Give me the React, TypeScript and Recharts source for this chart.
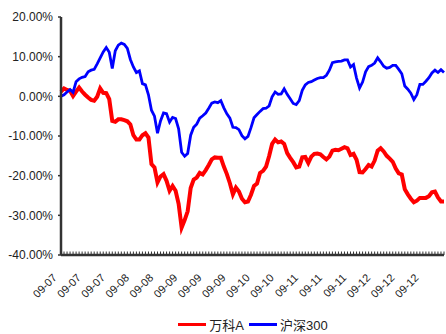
import React from 'react';
import { LineChart, Line, XAxis, YAxis, Legend } from 'recharts';

const monthNames = ['09-07', '09-08', '09-09', '09-10', '09-11', '09-12'];
const monthDays = [22, 18, 22, 17, 22, 27];

const vanke = [
  1.2, 2.0, 1.6, 1.4, 0.1, 1.2, 2.2, 1.2, 0.4, -0.3,
  -0.9, -1.1, -0.1, 2.0, 0.9, 0.8, -0.7, -6.2, -6.4, -5.8,
  -5.8, -6.0, -6.3, -7.1, -9.8, -10.9, -10.9, -9.8, -9.3, -10.4,
  -17.1, -17.9, -21.7, -20.2, -19.6, -21.3, -23.8, -22.6, -23.8, -27.1,
  -33.1, -31.2, -29.0, -23.1, -21.0, -20.5, -19.3, -19.7, -18.6, -17.3,
  -15.9, -15.4, -15.5, -15.5, -17.7, -19.6, -21.9, -24.7, -23.0, -24.0,
  -25.8, -26.7, -26.5, -24.8, -22.6, -22.0, -19.3, -18.8, -17.7, -15.1,
  -12.0, -10.9, -11.6, -11.4, -12.0, -14.3, -15.5, -16.6, -17.9, -17.7,
  -15.4, -15.3, -16.8, -15.2, -14.5, -14.4, -14.6, -15.3, -15.9, -15.2,
  -13.7, -13.5, -13.6, -13.2, -12.8, -13.1, -14.8, -14.5, -16.0, -19.1,
  -19.2, -18.3, -17.3, -17.7, -16.2, -13.7, -13.1, -13.9, -15.0, -15.7,
  -16.5, -18.2, -19.4, -19.7, -23.4, -24.7, -25.8, -26.7, -26.3, -25.6,
  -25.6, -25.6, -25.2, -24.2, -24.0, -25.5, -26.5, -26.5,
];

const hs300 = [
  0.0, 0.4, 1.1, 1.7, 1.0, 3.7, 4.4, 4.8, 5.0, 6.2,
  6.6, 6.8, 8.2, 9.7, 11.2, 12.3, 11.1, 7.0, 11.5, 12.9,
  13.4, 13.1, 12.1, 9.3, 7.4, 6.0, 6.4, 3.2, 2.9, 0.4,
  -3.5, -5.0, -9.3, -6.2, -4.2, -4.4, -6.5, -5.3, -5.6, -8.2,
  -14.1, -15.1, -14.4, -9.8, -7.8, -7.0, -5.5, -4.9, -4.2, -3.0,
  -1.7, -1.4, -1.6, -1.1, -2.9, -4.4, -5.5, -7.8, -7.9, -8.4,
  -9.9, -10.7, -10.1, -7.9, -5.4, -4.6, -3.8, -3.1, -3.0, -2.4,
  -0.1, 1.1, 0.5, 0.6, 1.9, 0.5, -0.6, -1.8, -2.1, -1.1,
  1.5, 2.9, 3.5, 3.7, 4.1, 4.5, 4.7, 4.7, 5.3, 6.6,
  8.5, 8.7, 8.8, 8.9, 9.2, 9.2, 7.4, 8.0, 4.6, 2.1,
  3.6, 6.2, 7.5, 7.8, 8.4, 9.7, 8.7, 7.6, 7.1, 7.3,
  7.8, 7.8, 6.8, 5.7, 2.6, 1.8, 0.8, -0.8, 0.4, 3.0,
  3.0, 3.8, 4.7, 5.9, 6.6, 6.0, 6.7, 6.0,
];

const yTicks = [-40, -30, -20, -10, 0, 10, 20];
const labelEvery = 8;

const categories: string[] = monthNames.flatMap((m, i) => Array(monthDays[i]).fill(m));
const data = categories.map((c, i) => ({ date: c, vanke: vanke[i], hs300: hs300[i] }));

const FONT = "'Liberation Sans', Arial, 'Noto Sans CJK SC', sans-serif";

const XTick = (props: any) => {
  const { x, y, payload } = props;
  const i = payload?.index ?? props.index ?? 0;
  const ax = x - 3.5;
  const ay = y + 23.5;
  return (
    <g>
      <line x1={x} x2={x} y1={y} y2={y - 3.5} stroke="#333" strokeWidth={1} />
      {i % labelEvery === 0 && (
        <text
          x={ax}
          y={ay}
          transform={`rotate(-45 ${ax} ${ay})`}
          textAnchor="end"
          fontSize={11}
          fill="#222"
          fontFamily={FONT}
        >
          {payload.value}
        </text>
      )}
    </g>
  );
};

const renderLegend = (props: any) => {
  const { payload } = props;
  return (
    <div
      style={{
        display: 'flex',
        justifyContent: 'center',
        alignItems: 'center',
        height: 20,
        fontFamily: FONT,
        fontSize: 13,
        color: '#222',
      }}
    >
      {(payload || []).map((entry: any, idx: number) => (
        <div key={idx} style={{ display: 'flex', alignItems: 'center', marginRight: idx === 0 ? 5 : 0 }}>
          <span
            style={{
              display: 'inline-block',
              width: 28,
              height: 3,
              background: entry.color,
              marginRight: 3,
            }}
          />
          <span>{entry.value}</span>
        </div>
      ))}
    </div>
  );
};

export default function App() {
  return (
    <div style={{ position: 'absolute', left: 0, top: 0, width: 446, height: 334, background: '#fff' }}>
      <LineChart
        width={446}
        height={334}
        data={data}
        margin={{ top: 17, right: 2, left: 6, bottom: 0 }}
      >
        <XAxis
          dataKey="date"
          interval={0}
          tickSize={0}
          tickMargin={0}
          tickLine={false}
          axisLine={{ stroke: '#333', strokeWidth: 2.5 }}
          tick={<XTick />}
          height={59}
          allowDuplicatedCategory={true}
        />
        <YAxis
          domain={[-40, 20]}
          ticks={yTicks}
          width={55}
          interval={0}
          tickSize={3}
          tickMargin={5}
          tickLine={{ stroke: '#333', strokeWidth: 1.5 }}
          axisLine={{ stroke: '#333', strokeWidth: 2.5 }}
          tick={{ fontSize: 12, fill: '#222', fontFamily: FONT }}
          tickFormatter={(v: number) => `${v.toFixed(2)}%`}
        />
        <Legend
          verticalAlign="bottom"
          content={renderLegend}
          wrapperStyle={{ left: 61, width: 384 }}
        />
        <Line
          type="linear"
          dataKey="vanke"
          name="万科A"
          stroke="#FF0000"
          strokeWidth={4}
          dot={false}
          isAnimationActive={false}
        />
        <Line
          type="linear"
          dataKey="hs300"
          name="沪深300"
          stroke="#0000FF"
          strokeWidth={2.8}
          dot={false}
          isAnimationActive={false}
        />
      </LineChart>
    </div>
  );
}
